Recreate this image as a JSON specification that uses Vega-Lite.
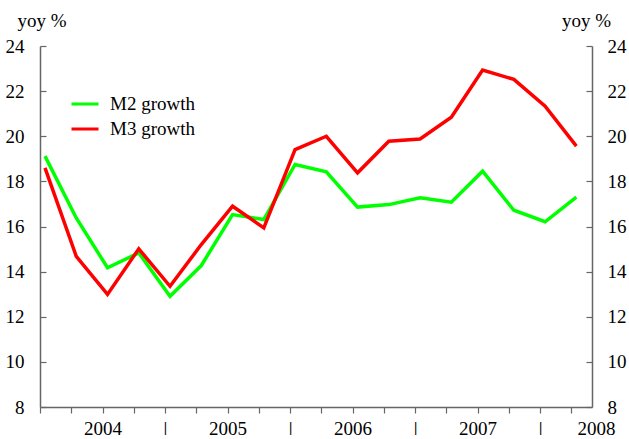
{
  "$schema": "https://vega.github.io/schema/vega-lite/v6.json",
  "width": 552,
  "height": 361,
  "autosize": "none",
  "padding": {"left": 40, "top": 46, "right": 37, "bottom": 32},
  "background": "white",
  "config": {
    "view": {"stroke": null},
    "font": "Liberation Serif, DejaVu Serif, serif",
    "axis": {"labelFont": "Liberation Serif, DejaVu Serif, serif", "titleFont": "Liberation Serif, DejaVu Serif, serif", "labelColor": "black", "titleColor": "black", "domainColor": "#666666", "tickColor": "#666666", "domainWidth": 1.5, "tickWidth": 1.2, "grid": false, "labelFontSize": 19, "titleFontSize": 19, "titleFontWeight": "normal"},
    "legend": {"labelFont": "Liberation Serif, DejaVu Serif, serif"}
  },
  "data": {
    "values": [
      {"t": 2004.04, "series": "M2 growth", "v": 19.12},
      {"t": 2004.29, "series": "M2 growth", "v": 16.38},
      {"t": 2004.54, "series": "M2 growth", "v": 14.17},
      {"t": 2004.79, "series": "M2 growth", "v": 14.83},
      {"t": 2005.04, "series": "M2 growth", "v": 12.91},
      {"t": 2005.29, "series": "M2 growth", "v": 14.27},
      {"t": 2005.54, "series": "M2 growth", "v": 16.53},
      {"t": 2005.79, "series": "M2 growth", "v": 16.31},
      {"t": 2006.04, "series": "M2 growth", "v": 18.75},
      {"t": 2006.29, "series": "M2 growth", "v": 18.42},
      {"t": 2006.54, "series": "M2 growth", "v": 16.86},
      {"t": 2006.79, "series": "M2 growth", "v": 16.97},
      {"t": 2007.04, "series": "M2 growth", "v": 17.27},
      {"t": 2007.29, "series": "M2 growth", "v": 17.08},
      {"t": 2007.54, "series": "M2 growth", "v": 18.45},
      {"t": 2007.79, "series": "M2 growth", "v": 16.72},
      {"t": 2008.04, "series": "M2 growth", "v": 16.21},
      {"t": 2008.29, "series": "M2 growth", "v": 17.30},
      {"t": 2004.04, "series": "M3 growth", "v": 18.60},
      {"t": 2004.29, "series": "M3 growth", "v": 14.68},
      {"t": 2004.54, "series": "M3 growth", "v": 12.99},
      {"t": 2004.79, "series": "M3 growth", "v": 15.01},
      {"t": 2005.04, "series": "M3 growth", "v": 13.35},
      {"t": 2005.29, "series": "M3 growth", "v": 15.20},
      {"t": 2005.54, "series": "M3 growth", "v": 16.90},
      {"t": 2005.79, "series": "M3 growth", "v": 15.94},
      {"t": 2006.04, "series": "M3 growth", "v": 19.41},
      {"t": 2006.29, "series": "M3 growth", "v": 20.00},
      {"t": 2006.54, "series": "M3 growth", "v": 18.38},
      {"t": 2006.79, "series": "M3 growth", "v": 19.78},
      {"t": 2007.04, "series": "M3 growth", "v": 19.88},
      {"t": 2007.29, "series": "M3 growth", "v": 20.84},
      {"t": 2007.54, "series": "M3 growth", "v": 22.93},
      {"t": 2007.79, "series": "M3 growth", "v": 22.52},
      {"t": 2008.04, "series": "M3 growth", "v": 21.33},
      {"t": 2008.29, "series": "M3 growth", "v": 19.56}
    ]
  },
  "encoding": {
    "x": {
      "field": "t", "type": "quantitative",
      "scale": {"domain": [2004, 2008.415], "nice": false, "zero": false},
      "axis": {
        "title": null,
        "values": [2004, 2004.25, 2004.5, 2004.75, 2005, 2005.25, 2005.5, 2005.75, 2006, 2006.25, 2006.5, 2006.75, 2007, 2007.25, 2007.5, 2007.75, 2008, 2008.25, 2008.415],
        "labelExpr": "datum.value > 2008.3 ? '2008' : (datum.value % 1 == 0.5 ? '' + floor(datum.value) : ((datum.value % 1 == 0 && datum.value > 2004) ? '|' : ''))",
        "labelOverlap": false,
        "labelFlush": false,
        "tickSize": 6,
        "tickOpacity": {"condition": {"test": "datum.value > 2008.3", "value": 0}, "value": 1},
        "labelOffset": {"condition": {"test": "datum.value > 2008.3", "value": 4}, "value": 0},
        "labelFontSize": {"condition": {"test": "datum.value % 1 == 0 && datum.value > 2004 && datum.value < 2008.3", "value": 15}, "value": 19},
        "labelFontWeight": {"condition": {"test": "datum.value % 1 == 0 && datum.value > 2004 && datum.value < 2008.3", "value": "bold"}, "value": "normal"},
        "labelPadding": 6,
        "labelBaseline": "top"
      }
    },
    "color": {
      "field": "series", "type": "nominal",
      "scale": {"domain": ["M2 growth", "M3 growth"], "range": ["#00ff00", "#ff0000"]},
      "legend": {
        "title": null, "orient": "none", "legendX": 30, "legendY": 43,
        "symbolType": "stroke", "symbolSize": 729, "symbolStrokeWidth": 3,
        "labelFont": "Liberation Serif, DejaVu Serif, serif", "labelFontSize": 19, "labelColor": "black",
        "labelOffset": 10, "rowPadding": -5
      }
    }
  },
  "layer": [
    {
      "transform": [{"filter": "datum.series == 'M2 growth'"}],
      "mark": {"type": "line", "strokeWidth": 3.5},
      "encoding": {
        "y": {
          "field": "v", "type": "quantitative",
          "scale": {"domain": [8, 24], "nice": false, "zero": false},
          "axis": {
            "orient": "left", "values": [8, 10, 12, 14, 16, 18, 20, 22, 24],
            "tickSize": -6, "labelPadding": 22,
            "title": "yoy %", "titleAngle": 0, "titleX": 1.5, "titleY": -20,
            "titleAlign": "center", "titleBaseline": "alphabetic"
          }
        }
      }
    },
    {
      "transform": [{"filter": "datum.series == 'M3 growth'"}],
      "mark": {"type": "line", "strokeWidth": 3.5},
      "encoding": {
        "y": {
          "field": "v", "type": "quantitative",
          "axis": {
            "orient": "right", "values": [8, 10, 12, 14, 16, 18, 20, 22, 24],
            "tickSize": -6, "labelPadding": 21,
            "title": "yoy %", "titleAngle": 0, "titleX": -6, "titleY": -20,
            "titleAlign": "center", "titleBaseline": "alphabetic"
          }
        }
      }
    }
  ],
  "resolve": {"axis": {"y": "independent"}}
}
